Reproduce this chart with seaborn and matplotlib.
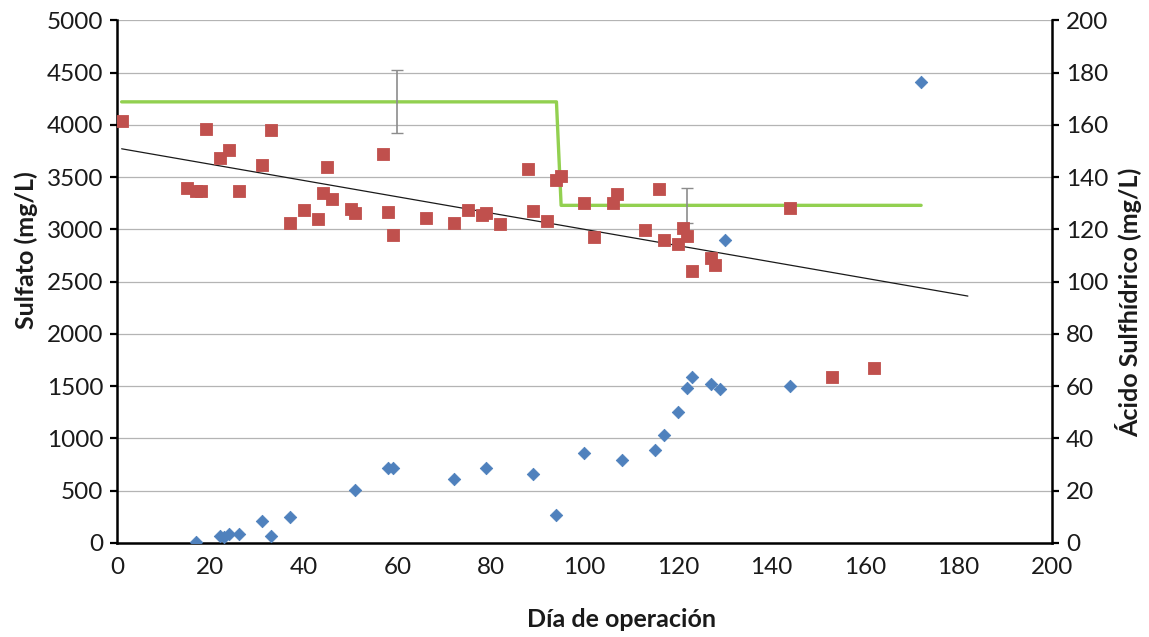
import matplotlib
matplotlib.use("Agg")
import matplotlib.pyplot as plt
import seaborn as sns
import pandas as pd
import numpy as np

# Sulfate concentration (mg/L) by operating day
sulfato_dia = [1, 15, 17, 18, 19, 22, 24, 26, 31, 33, 37, 40, 43, 44, 45, 46, 50, 51,
               57, 58, 59, 66, 72, 75, 78, 79, 82, 88, 89, 92, 94, 95, 100, 102, 106,
               107, 113, 116, 117, 120, 121, 122, 123, 127, 128, 144, 153, 162]
sulfato_val = [4040, 3400, 3366, 3366, 3960, 3679, 3762, 3366, 3615, 3950, 3058, 3184,
               3098, 3347, 3600, 3292, 3194, 3154, 3722, 3168, 2944, 3107, 3065, 3184,
               3141, 3154, 3054, 3580, 3180, 3081, 3476, 3508, 3252, 2926, 3252, 3338,
               2996, 3383, 2902, 2862, 3018, 2934, 2600, 2730, 2655, 3208, 1584, 1670]

# Hydrogen sulfide concentration (mg/L) by operating day
h2s_dia = [17, 22, 23, 24, 26, 31, 33, 37, 51, 58, 59, 72, 79, 89, 94, 100, 108, 115,
           117, 120, 122, 123, 127, 129, 130, 144, 172]
h2s_val = [0.3, 2.7, 2.1, 3.6, 3.6, 8.6, 2.7, 9.8, 20.2, 28.7, 28.5, 24.6, 28.7, 26.5,
           10.8, 34.5, 31.8, 35.5, 41.4, 50.0, 59.2, 63.6, 60.8, 58.9, 116.0, 60.0, 176.5]

# Sulfate fed to the reactor (stepwise) and its variability
feed_dia = [1, 94, 95, 172]
feed_val = [4220, 4220, 3230, 3230]
err_dia = [60, 122]
err_val = [4220, 3230]
err_sd = [300, 170]

# Linear trend of the sulfate series
trend_dia = [1, 182]
trend_val = [3771, 2362]

x_ticks = list(range(0, 201, 20))
y_left_ticks = list(range(0, 5001, 500))
y_right_ticks = list(range(0, 201, 20))

sns.set_theme(style="white")
plt.rcParams["font.family"] = ["Lato", "DejaVu Sans"]

fig = plt.figure(figsize=(11.49, 6.37), dpi=100)
ax = fig.add_axes([0.1018, 0.1476, 0.9156 - 0.1018, 0.9681 - 0.1476])
ax2 = ax.twinx()

red = "#C0504D"
blue = "#4F81BD"
green = "#92D050"
txt = "#1A1A1A"

df_s = pd.DataFrame({"dia": sulfato_dia, "valor": sulfato_val})
df_h = pd.DataFrame({"dia": h2s_dia, "valor": h2s_val})
df_f = pd.DataFrame({"dia": feed_dia, "valor": feed_val})
df_t = pd.DataFrame({"dia": trend_dia, "valor": trend_val})

# horizontal grid
for v in y_left_ticks:
    ax.axhline(v, color="#B4B4B4", lw=0.9, zorder=0)

sns.lineplot(data=df_f, x="dia", y="valor", ax=ax, color=green, lw=2.4,
             sort=False, estimator=None, zorder=2)
eb = ax.errorbar(err_dia, err_val, yerr=err_sd, fmt="none", ecolor="#8C8C8C",
                 elinewidth=1.2, capsize=4, capthick=1.0, zorder=3)
for cap in eb[1]:
    cap.set_color("#262626")
sns.lineplot(data=df_t, x="dia", y="valor", ax=ax, color="#1A1A1A", lw=0.9,
             sort=False, estimator=None, zorder=3)
sns.scatterplot(data=df_s, x="dia", y="valor", ax=ax, marker="s", s=78,
                color=red, edgecolor=red, linewidth=0.6, zorder=4)
sns.scatterplot(data=df_h, x="dia", y="valor", ax=ax2, marker="D", s=40,
                color=blue, edgecolor=blue, linewidth=0.6, zorder=4)

ax.set_xlim(0, 200)
ax.set_ylim(0, 5000)
ax2.set_ylim(0, 200)
ax.set_xticks(x_ticks)
ax.set_yticks(y_left_ticks)
ax2.set_yticks(y_right_ticks)

for a in (ax, ax2):
    a.grid(False)
    a.spines["top"].set_visible(False)
    for side in ("left", "right", "bottom"):
        a.spines[side].set_color("black")
        a.spines[side].set_linewidth(1.8)
    a.tick_params(axis="both", which="major", direction="out", length=5, width=1.6,
                  color="black", labelsize=17.5, labelcolor=txt, pad=5)
ax.spines["right"].set_visible(False)
ax2.spines["left"].set_visible(False)
ax2.spines["bottom"].set_visible(False)

ax.set_xlabel("Día de operación", fontsize=18, fontweight="bold", color=txt)
ax.set_ylabel("Sulfato (mg/L)", fontsize=18, fontweight="bold", color=txt)
ax2.set_ylabel("Ácido Sulfhídrico (mg/L)", fontsize=18, fontweight="bold",
               color=txt, rotation=90)
ax.xaxis.set_label_coords(0.54, -0.125)
ax.yaxis.set_label_coords(-0.084, 0.56)
ax2.yaxis.set_label_coords(1.068, 0.46)

fig.savefig("out.png", dpi=100)
